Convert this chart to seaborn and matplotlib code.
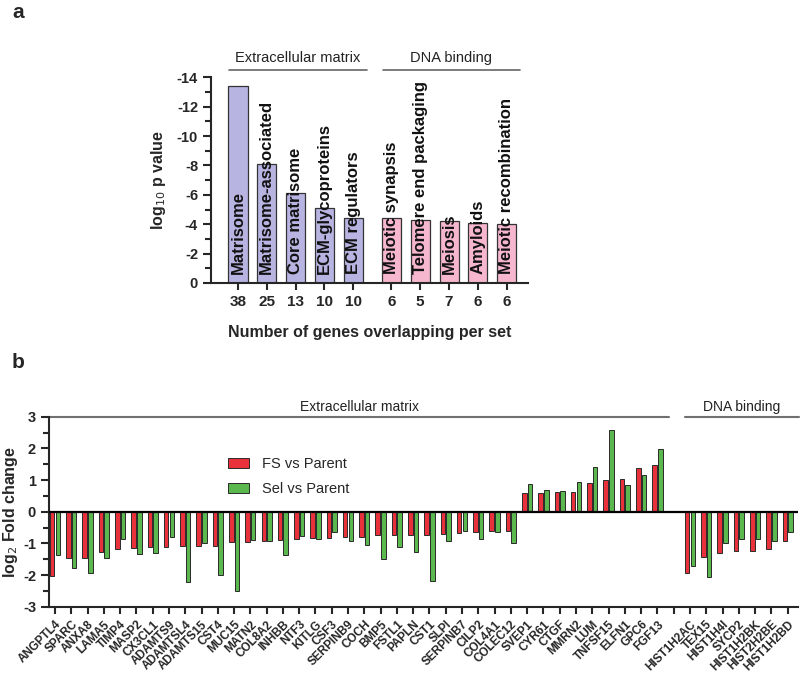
import numpy as np
import pandas as pd
import seaborn as sns
import matplotlib.pyplot as plt
from matplotlib.ticker import MultipleLocator

# ---- panel a data ----
terms = ["Matrisome", "Matrisome-associated", "Core matrisome", "ECM-glycoproteins",
         "ECM regulators", "Meiotic synapsis", "Telomere end packaging", "Meiosis",
         "Amyloids", "Meiotic recombination"]
log10_p = [-13.43, -8.07, -6.15, -5.13, -4.40, -4.43, -4.27, -4.22, -4.10, -4.03]
n_genes = [38, 25, 13, 10, 10, 6, 5, 7, 6, 6]
term_group = ["Extracellular matrix"] * 5 + ["DNA binding"] * 5

# ---- panel b data ----
ecm_genes = ["ANGPTL4", "SPARC", "ANXA8", "LAMA5", "TIMP4", "MASP2", "CX3CL1", "ADAMTS9",
             "ADAMTSL4", "ADAMTS15", "CST4", "MUC15", "MATN2", "COL8A2", "INHBB", "NTF3",
             "KITLG", "CSF3", "SERPINB9", "COCH", "BMP5", "FSTL1", "PAPLN", "CST1", "SLPI",
             "SERPINB7", "CILP2", "COL4A1", "COLEC12", "SVEP1", "CYR61", "CTGF", "MMRN2",
             "LUM", "TNFSF15", "ELFN1", "GPC6", "FGF13"]
ecm_fs = [-2.02, -1.47, -1.47, -1.28, -1.18, -1.14, -1.13, -1.10, -1.09, -1.07, -1.07,
          -0.97, -0.96, -0.94, -0.88, -0.86, -0.84, -0.82, -0.80, -0.79, -0.74, -0.73,
          -0.72, -0.72, -0.69, -0.68, -0.65, -0.62, -0.61, 0.58, 0.60, 0.62, 0.63, 0.91,
          1.01, 1.04, 1.37, 1.48]
ecm_sel = [-1.38, -1.77, -1.93, -1.47, -0.87, -1.33, -1.30, -0.79, -2.22, -0.98, -2.01,
           -2.50, -0.89, -0.93, -1.37, -0.77, -0.87, -0.64, -0.93, -1.04, -1.48, -1.12,
           -1.28, -2.19, -0.92, -0.60, -0.85, -0.64, -0.99, 0.88, 0.68, 0.65, 0.94, 1.42,
           2.57, 0.83, 1.17, 1.98]
dna_genes = ["HIST1H2AC", "TEX15", "HIST1H4I", "SYCP2", "HIST1H2BK", "HIST2H2BE", "HIST1H2BD"]
dna_fs = [-1.92, -1.44, -1.31, -1.25, -1.23, -1.18, -0.91]
dna_sel = [-1.70, -2.07, -1.00, -0.85, -0.85, -0.91, -0.65]
comparisons = ["FS vs Parent", "Sel vs Parent"]

sns.set_theme(style="ticks")
plt.rcParams['font.family'] = ['Liberation Sans', 'DejaVu Sans']
plt.rcParams['axes.unicode_minus'] = False

fig = plt.figure(figsize=(8, 6.81), dpi=100)

# ================= panel a =================
ax1 = fig.add_axes([0.264, 0.5845, 0.396, 0.302])
gap_a = 1.32
xpos = [i if g == "Extracellular matrix" else i + gap_a - 1
        for i, g in enumerate(term_group)]
df_a = pd.DataFrame({"x": xpos, "p": log10_p, "group": term_group})
sns.barplot(data=df_a, x="x", y="p", hue="group", native_scale=True, width=0.66,
            palette={"Extracellular matrix": "#b7b4e2", "DNA binding": "#f5b6ce"},
            saturation=1, edgecolor="#333333", linewidth=0.9, dodge=False,
            legend=False, ax=ax1)
ax1.set_ylim(0, -14)
ax1.set_xlim(xpos[0] - 0.93, xpos[-1] + 0.74)
ax1.yaxis.set_major_locator(MultipleLocator(2))
ax1.yaxis.set_minor_locator(MultipleLocator(1))
ax1.set_xticks(xpos)
ax1.set_xticklabels([str(n) for n in n_genes], fontsize=11, fontweight='bold')
for lab in ax1.get_yticklabels():
    lab.set_fontweight('bold')
    lab.set_fontsize(10.5)
ax1.tick_params(axis='y', which='major', length=6, width=1.5)
ax1.tick_params(axis='y', which='minor', length=4, width=1.5)
ax1.tick_params(axis='x', length=5, width=1.5)
for s in ["top", "right"]:
    ax1.spines[s].set_visible(False)
for s in ["left", "bottom"]:
    ax1.spines[s].set_linewidth(1.5)
ax1.set_ylabel("log$_{10}$ p value", fontsize=11.5, fontweight='bold', labelpad=6)
ax1.set_xlabel("Number of genes overlapping per set", fontsize=11.5,
               fontweight='bold', labelpad=12)

for x, t in zip(xpos, terms):
    ax1.text(x, -0.6, t, rotation=90, ha='center', va='bottom', fontsize=12,
             fontweight='bold', color='#111111')

for g in ["Extracellular matrix", "DNA binding"]:
    gx = [x for x, gg in zip(xpos, term_group) if gg == g]
    ax1.plot([gx[0] - 0.3, gx[-1] + 0.47], [-14.5, -14.5], color='#666666', lw=1.2,
             clip_on=False)
    ax1.text((gx[0] + gx[-1]) / 2 + 0.08, -15.3, g, ha='center', va='center',
             fontsize=10.5, color='#222222')

# ================= panel b =================
order = ecm_genes + [" "] + dna_genes
rows = []
for genes, fs, sel in [(ecm_genes, ecm_fs, ecm_sel), (dna_genes, dna_fs, dna_sel)]:
    for g, a, b in zip(genes, fs, sel):
        rows.append((g, comparisons[0], a))
        rows.append((g, comparisons[1], b))
df_b = pd.DataFrame(rows, columns=["gene", "comparison", "log2fc"])

ax2 = fig.add_axes([0.0616, 0.1091, 0.936, 0.279])
sns.barplot(data=df_b, x="gene", y="log2fc", hue="comparison", order=order,
            hue_order=comparisons, palette=["#e8313b", "#5ab84e"], saturation=1,
            width=0.7, gap=0.2, edgecolor="#2a2a2a", linewidth=0.7, errorbar=None, ax=ax2)
ax2.set_ylim(-3, 3)
ax2.set_xlim(-0.35, len(order) - 1 + 0.64)
ax2.axhline(0, color='black', lw=1.6, zorder=3)
ax2.yaxis.set_major_locator(MultipleLocator(1))
ax2.yaxis.set_minor_locator(MultipleLocator(0.5))
ax2.set_xticks(range(len(order)))
ax2.set_xticklabels(order, rotation=45, ha='right', rotation_mode='anchor',
                    fontsize=8.5, fontweight='bold')
for lab in ax2.get_yticklabels():
    lab.set_fontweight('bold')
    lab.set_fontsize(10.5)
ax2.tick_params(axis='y', which='major', length=6, width=1.5)
ax2.tick_params(axis='y', which='minor', length=4, width=1.5)
ax2.tick_params(axis='x', length=5, width=1.5)
for s in ["top", "right"]:
    ax2.spines[s].set_visible(False)
for s in ["left", "bottom"]:
    ax2.spines[s].set_linewidth(1.5)
ax2.set_xlabel("")
ax2.set_ylabel("log$_2$ Fold change", fontsize=11.5, fontweight='bold', labelpad=2)

handles, labels = ax2.get_legend_handles_labels()
ax2.legend(handles, labels, loc='upper left', bbox_to_anchor=(0.229, 0.825), frameon=False,
           fontsize=10.5, handlelength=1.45, handleheight=0.72, labelspacing=0.75,
           handletextpad=0.9, borderpad=0)

for g, genes in [("Extracellular matrix", ecm_genes), ("DNA binding", dna_genes)]:
    i0, i1 = order.index(genes[0]), order.index(genes[-1])
    ax2.plot([i0 - 0.3, i1 + 0.7], [3, 3], color='#707070', lw=1.5, clip_on=False)
    ax2.text((i0 + i1) / 2 + 0.2, 3.1, g, ha='center', va='bottom', fontsize=10,
             color='#222222')

fig.text(0.015, 0.982, "a", fontsize=15, fontweight='bold', va='center')
fig.text(0.015, 0.467, "b", fontsize=15, fontweight='bold', va='center')

fig.savefig("out.png", dpi=100)
